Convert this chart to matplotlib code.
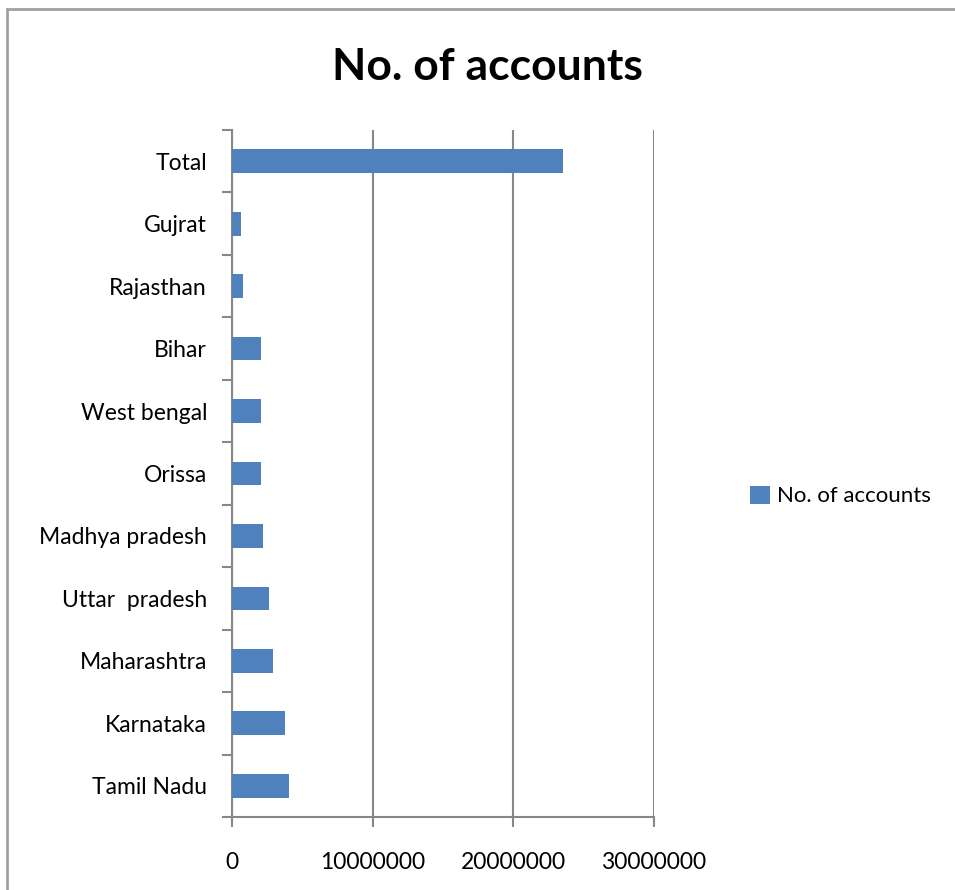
import matplotlib
matplotlib.use("Agg")
import matplotlib.pyplot as plt
from matplotlib.patches import Rectangle

plt.rcParams['font.family'] = ['Lato', 'DejaVu Sans']

states = ["Tamil Nadu", "Karnataka", "Maharashtra", "Uttar  pradesh", "Madhya pradesh",
          "Orissa", "West bengal", "Bihar", "Rajasthan", "Gujrat", "Total"]
accounts = [4050000, 3790000, 2910000, 2630000, 2230000,
            2060000, 2060000, 2060000, 760000, 640000, 23550000]
xticks = [0, 10000000, 20000000, 30000000]

bar_color = "#4F81BD"
line_color = "#888888"

fig = plt.figure(figsize=(9.55, 8.9), dpi=100)
# outer chart frame (only top and left edges fall inside the image)
fig.patches.append(Rectangle((7 / 955, -0.2), 1.2, 1.2 - 9 / 890, transform=fig.transFigure,
                             fill=False, edgecolor="#A0A0A0", linewidth=2))

ax = fig.add_axes([232 / 955, 1 - 817 / 890, (654 - 232) / 955, (817 - 130) / 890])
ypos = range(len(states))
ax.barh(ypos, accounts, height=0.38, color=bar_color, label="No. of accounts", zorder=3)

ax.set_xlim(0, 30000000)
ax.set_ylim(-0.5, len(states) - 0.5)
ax.set_xticks(xticks)
ax.set_xticklabels([str(v) for v in xticks], fontsize=16.5)
ax.set_yticks(list(ypos))
ax.set_yticklabels(states, fontsize=16.5)
ax.tick_params(axis="y", length=0, pad=18)
ax.tick_params(axis="x", length=7, color=line_color, width=1.5, pad=18)
# category separators on the value axis
ax.set_yticks([i - 0.5 for i in range(len(states) + 1)], minor=True)
ax.tick_params(axis="y", which="minor", length=7, color=line_color, width=1.5)

ax.grid(axis="x", color=line_color, linewidth=1.5, zorder=0)
for side in ["top", "right"]:
    ax.spines[side].set_visible(False)
for side in ["left", "bottom"]:
    ax.spines[side].set_color(line_color)
    ax.spines[side].set_linewidth(1.5)

fig.text(487 / 955, 1 - 67 / 890, "No. of accounts", ha="center", va="center",
         fontsize=32, fontweight="bold")

handles, labels = ax.get_legend_handles_labels()
fig.legend(handles, labels, loc="center left", bbox_to_anchor=(730 / 955, 1 - 496 / 890),
           frameon=False, fontsize=16, handlelength=0.9, handleheight=0.9,
           handletextpad=0.3)

fig.savefig("out.png", dpi=100)
